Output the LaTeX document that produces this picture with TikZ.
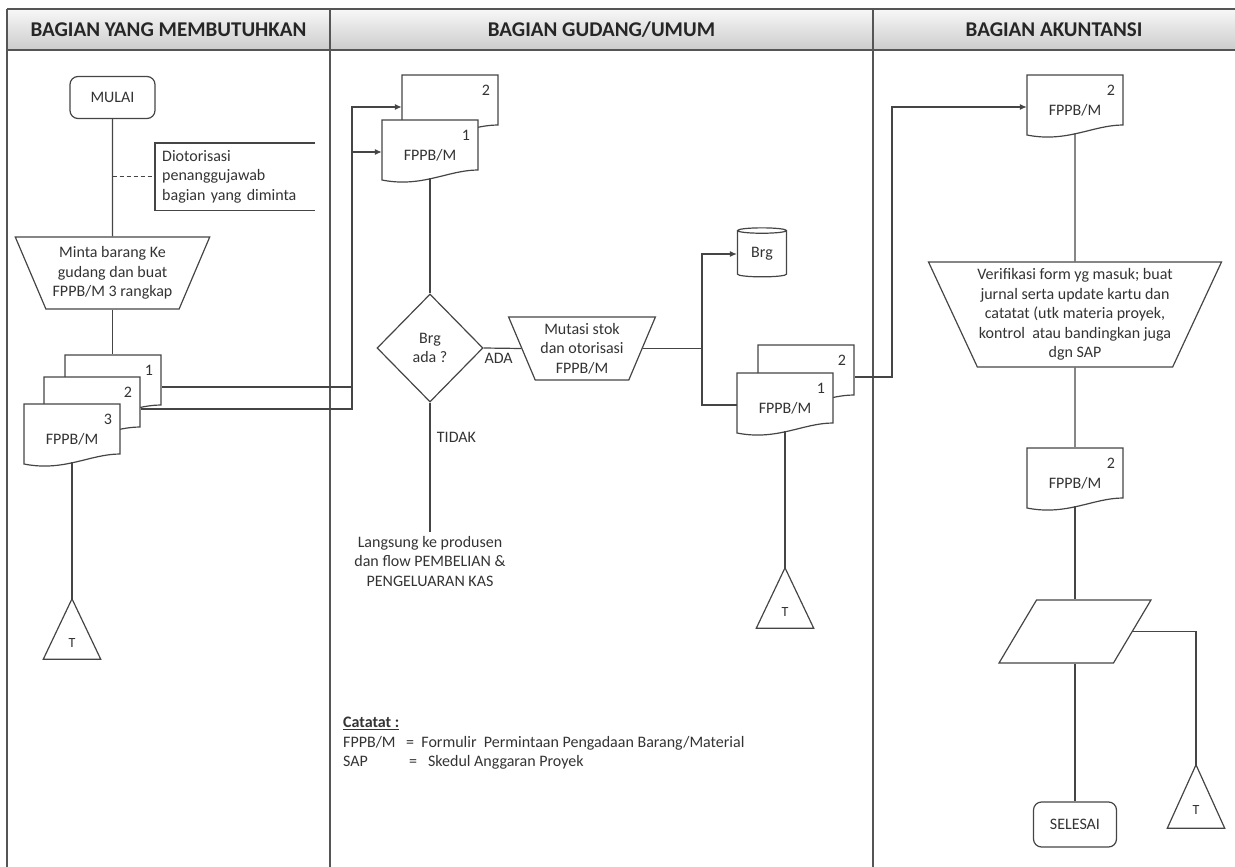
\documentclass[tikz,border=0pt]{standalone}
\usepackage{fontspec}
\setmainfont{Carlito}
\usetikzlibrary{positioning,calc,shapes.geometric,arrows.meta}

\definecolor{ink}{HTML}{454545}
\definecolor{lanegray}{HTML}{555555}
\definecolor{txt}{HTML}{333333}

\tikzset{
  every node/.style={font=\fontsize{16}{19.5}\selectfont, text=txt},
  line/.style={draw=ink, line width=1.2pt},
  lane/.style={draw=lanegray, line width=1.6pt},
  arrow/.style={line, -{Latex[length=7pt,width=6pt]}},
  lanehead/.style={font=\fontsize{21}{24}\selectfont\bfseries, text=black!85},
  terminal/.style={line, rounded corners=8pt, minimum width=85pt, minimum height=42pt},
  manual/.style={line, trapezium, shape border rotate=180, trapezium stretches=true, align=center, inner sep=0pt},
  decision/.style={line, diamond, minimum width=106pt, minimum height=108pt, align=center, inner sep=0pt},
  store/.style={line, cylinder, shape border rotate=90, aspect=0.25, minimum width=49pt, minimum height=49pt, inner sep=0pt},
  iodata/.style={line, trapezium, trapezium left angle=64, trapezium right angle=116, trapezium stretches=true, minimum width=152pt, minimum height=63pt},
  doc/.style={minimum width=98pt, minimum height=66pt, inner sep=0pt, text width=80pt, align=center, text depth=33pt,
    path picture={
      \filldraw[line, fill=white]
        ([xshift=1pt,yshift=-1pt]path picture bounding box.north west)
        -- ([xshift=-1pt,yshift=-1pt]path picture bounding box.north east)
        -- ([xshift=-1pt,yshift=15pt]path picture bounding box.south east)
        .. controls ([xshift=-31pt,yshift=15pt]path picture bounding box.south east)
        and ([xshift=41pt,yshift=-3pt]path picture bounding box.south west)
        .. ([xshift=1pt,yshift=5pt]path picture bounding box.south west) -- cycle;}},
  tribox/.style={minimum width=57pt, minimum height=60pt, inner sep=0pt, text height=36pt, text depth=0pt, font=\fontsize{14}{16}\selectfont},
}

\begin{document}
\begin{tikzpicture}[x=1pt, y=-1pt]
  \useasboundingbox (0,0) rectangle (1235,867);

  % swimlanes
  \shade[top color=gray!6, bottom color=gray!40] (7,9) rectangle (1236,50);
  \draw[lane] (1236,9) -- (7,9);
  \draw[lane] (7,50) -- (1236,50);
  \foreach \x in {7,330,873}
    \draw[lane] (\x,9) -- (\x,867);
  \node[lanehead] (head1) at (168.5,29.5) {BAGIAN YANG MEMBUTUHKAN};
  \node[lanehead] (head2) at (601.5,29.5) {BAGIAN GUDANG/UMUM};
  \node[lanehead] (head3) at (1054,29.5) {BAGIAN AKUNTANSI};

  % bagian yang membutuhkan
  \node[terminal] (mulai) at (112.5,97.5) {MULAI};
  \node[align=left, text width=146pt, inner xsep=7pt, minimum height=67pt, anchor=north west] (note) at (155,143) {Diotorisasi\\penanggujawab\\bagian yang diminta};
  \node[manual, trapezium left angle=62.5, trapezium right angle=62.5, minimum width=195pt, minimum height=72pt] (minta) at (112.5,273) {Minta barang Ke\\gudang dan buat\\FPPB/M 3 rangkap};
  \node[doc] (dL1) at (113,387) {\hfill 1};
  \node[doc] (dL2) at (92,409) {\hfill 2};
  \node[doc] (dL3) at (72,436) {\hfill 3\\FPPB/M};
  \node[tribox] (tL) at (72,629) {T};

  % bagian gudang/umum
  \node[doc] (dG2) at (450,107) {\hfill 2};
  \node[doc] (dG1) at (430,152) {\hfill 1\\FPPB/M};
  \node[decision] (brgada) at (430,348) {Brg\\ada ?};
  \node[manual, trapezium left angle=65, trapezium right angle=65, minimum width=147pt, minimum height=63pt] (mutasi) at (582,348.5) {Mutasi stok\\dan otorisasi\\FPPB/M};
  \node[store] (brg) at (762,254) {Brg};
  \node[doc] (dM2) at (806,377) {\hfill 2};
  \node[doc] (dM1) at (785,405) {\hfill 1\\FPPB/M};
  \node[tribox] (tM) at (785,598) {T};
  \node[align=center] (langsung) at (430,561) {Langsung ke produsen\\dan flow PEMBELIAN \&\\PENGELUARAN KAS};
  \node[align=left, anchor=north west, inner sep=0pt] (catatan) at (343,717) {\underline{\textbf{Catatat :}}\\
    \makebox[63pt][l]{FPPB/M}=\ \ Formulir\ \ Permintaan Pengadaan Barang/Material\\
    \makebox[66pt][l]{SAP}=\ \ \ Skedul Anggaran Proyek};

  % bagian akuntansi
  \node[doc] (dR1) at (1075,107) {\hfill 2\\FPPB/M};
  \node[manual, trapezium left angle=62, trapezium right angle=62, minimum width=282pt, minimum height=105pt] (verif) at (1075,314.5) {Verifikasi form yg masuk; buat\\jurnal serta update kartu dan\\catatat (utk materia proyek,\\kontrol\ \ atau bandingkan juga\\dgn SAP};
  \node[doc] (dR2) at (1075,480) {\hfill 2\\FPPB/M};
  \node[iodata] (arsip) at (1075,631.5) {};
  \node[terminal, minimum width=83pt, minimum height=45pt] (selesai) at (1075,824.5) {SELESAI};
  \node[tribox, minimum height=63pt] (tR) at (1196,796.5) {T};

  \foreach \t in {tL,tM,tR}
    \draw[line] (\t.north) -- (\t.south west) -- (\t.south east) -- cycle;

  % connectors
  \draw[line] (mulai) -- (minta);
  \draw[line, dash pattern=on 4pt off 3pt] (mulai.south |- note.west) -- (note.west);
  \draw[line] (note.north east) -- (note.north west) -- (note.south west) -- (note.south east);
  \draw[line] (minta.south) -- (minta.south |- dL1.north);
  \draw[line] ([yshift=7pt]dL3.south) -- (tL.north);

  \coordinate (busL) at (352,0);
  \draw[arrow] (dL1.east) -- (busL |- dL1.east) -- (busL |- dG1.west) -- ([xshift=1pt]dG1.west);
  \draw[arrow] (dL2.east) -- (busL |- dL2.east) -- (busL |- dG2.west) -- ([xshift=1pt]dG2.west);

  \draw[line] ([yshift=7pt]dG1.south) -- (brgada.north);
  \draw[line] (brgada.east) -- node[below=1pt, pos=0.4] {ADA} (mutasi.west);
  \draw[line] (brgada.south) -- node[right, pos=0.27, xshift=3pt] {TIDAK} (langsung.north);

  \coordinate (busM) at (702,0);
  \draw[line] (mutasi.east) -- (busM |- mutasi.east);
  \draw[arrow] (busM |- mutasi.east) |- (brg.west);
  \draw[line] (busM |- mutasi.east) |- ([xshift=1pt]dM1.west);
  \draw[line] ([yshift=7pt]dM1.south) -- (tM.north);

  \coordinate (busR) at (892,0);
  \draw[arrow] (dM2.east) -- (busR |- dM2.east) |- ([xshift=1pt]dR1.west);
  \draw[line] ([yshift=7pt]dR1.south) -- (verif.north);
  \draw[line] (verif.south) -- (dR2.north);
  \draw[line] ([yshift=7pt]dR2.south) -- (arsip.north);
  \draw[line] (arsip.south) -- (selesai.north);
  \draw[line] (arsip.east) -| (tR.north);
\end{tikzpicture}
\end{document}
